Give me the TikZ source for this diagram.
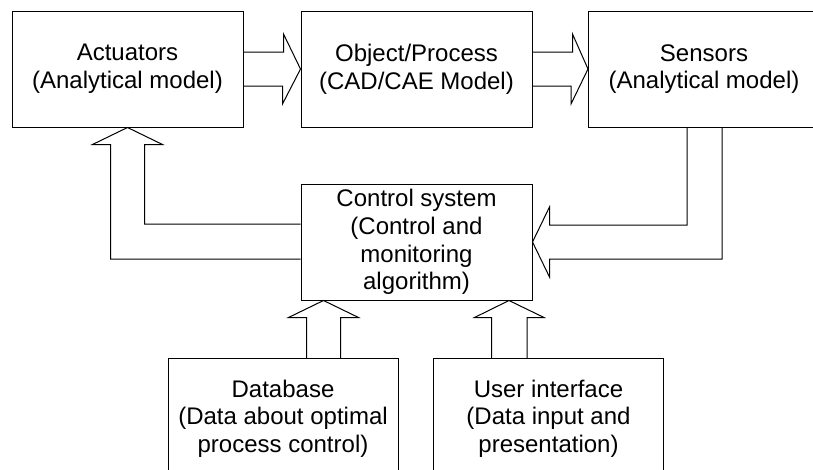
\documentclass[tikz,border=0pt]{standalone}
\usepackage{fontspec}
\setmainfont{Liberation Sans}
\usetikzlibrary{calc}
\tikzset{
  box/.style={draw, line width=1pt, inner sep=0pt, align=center,
    minimum width=231pt, minimum height=116pt,
    font=\fontsize{24}{27.6}\selectfont},
  blk/.style={draw, line width=1pt, line join=miter}
}
\begin{document}
\begin{tikzpicture}[x=1pt,y=-1pt]
\useasboundingbox (0,0) rectangle (813,469);
\clip (0,0) rectangle (813,469);
\node[box] (act) at (127.5,69) {Actuators\\(Analytical model)};
\node[box] (obj) at (416.5,69) {Object/Process\\(CAD/CAE Model)};
\node[box] (sen) at (704,69) {Sensors\\(Analytical model)};
\node[box] (ctl) at (416.5,242) {Control system\\(Control and\\monitoring\\algorithm)};
\node[box, minimum width=230pt, minimum height=121pt] (db) at (283,418.5) {Database\\(Data about optimal\\process control)};
\node[box, minimum width=230pt, minimum height=121pt] (usr) at (548.5,418.5) {User interface\\(Data input and\\presentation)};
% Actuators -> Object
\draw[blk] ($(act.east)+(0,-17)$) -- ++(40,0) -- ++(0,-18) -- (obj.west) -- ++(-18,35) -- ++(0,-18) -- ($(act.east)+(0,17)$);
% Object -> Sensors
\draw[blk] ($(obj.east)+(0,-17)$) -- ++(40,0) -- ++(0,-18) -- (sen.west) -- ++(-17,35) -- ++(0,-18) -- ($(obj.east)+(0,17)$);
% Sensors -> Control
\draw[blk] ($(sen.south)+(-17,0)$) |- ($(ctl.east)+(17,-17)$) -- ++(0,-18) -- (ctl.east) -- ++(17,35) -- ++(0,-18) -| ($(sen.south)+(18,0)$);
% Control -> Actuators
\draw[blk] ($(ctl.west)+(0,-18)$) -| ($(act.south)+(17,17)$) -- ++(18,0) -- (act.south) -- ++(-35,17) -- ++(18,0) |- ($(ctl.west)+(0,17)$);
% Database -> Control
\draw[blk] ($(ctl.south west)+(6,58)$) -- ++(0,-41) -- ++(-18,0) -- ($(ctl.south west)+(23,0)$) -- ++(35,17) -- ++(-18,0) -- ++(0,41);
% User interface -> Control
\draw[blk] ($(ctl.south east)+(-41,58)$) -- ++(0,-41) -- ++(-17,0) -- ($(ctl.south east)+(-23.5,0)$) -- ++(35,17) -- ++(-17,0) -- ++(0,41);
\end{tikzpicture}
\end{document}
